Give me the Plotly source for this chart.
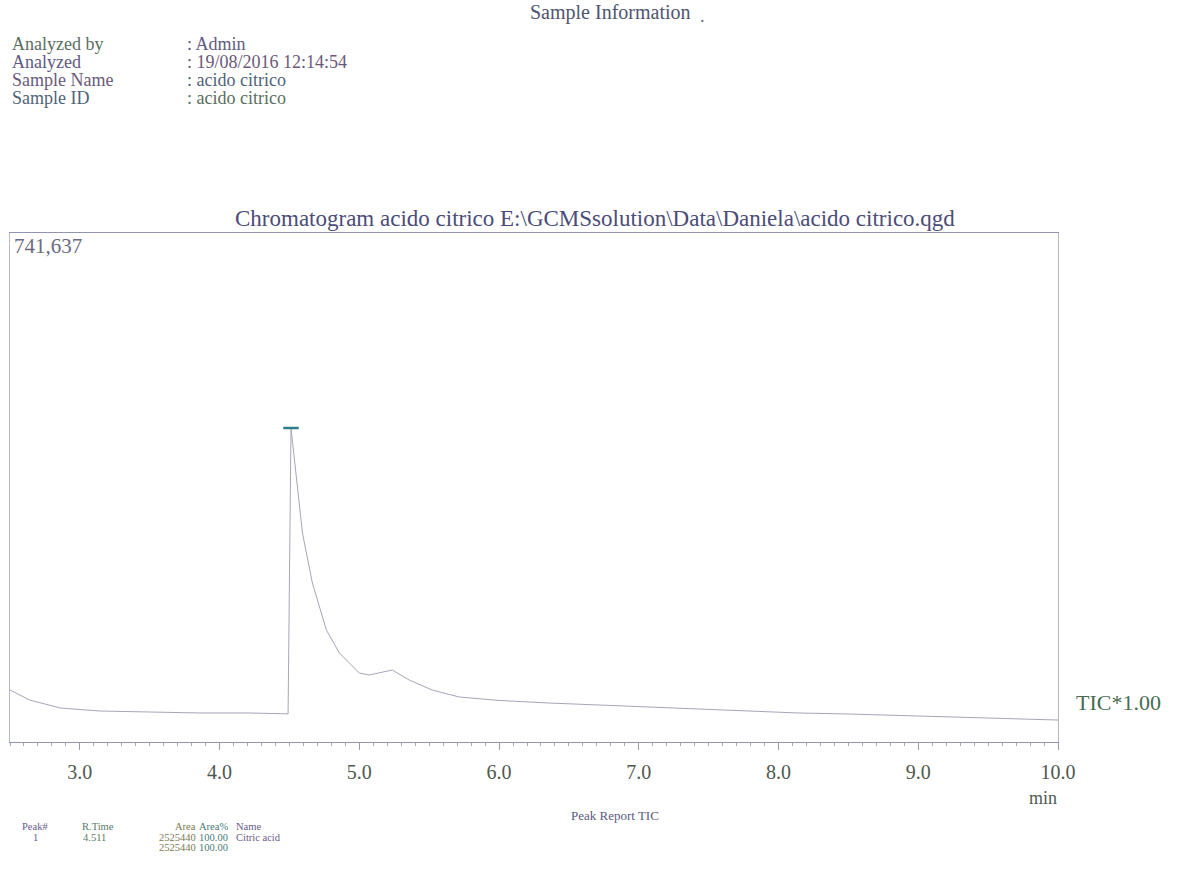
import plotly.graph_objects as go

# ---- data ----
time_min = [2.50, 2.64, 2.86, 3.14, 3.50, 3.86, 4.21, 4.46, 4.49, 4.511, 4.593, 4.664, 4.764,
            4.857, 5.00, 5.07, 5.236, 5.357, 5.52, 5.714, 6.00, 6.36, 6.71, 7.07, 7.43, 7.79,
            8.14, 8.50, 8.86, 9.21, 9.57, 10.0]
intensity = [75800, 61200, 49500, 45200, 43700, 42300, 42300, 40800, 41000, 457500, 304500,
             231700, 163200, 129700, 100500, 97600, 104900, 90300, 75800, 65600, 60500, 56800,
             53900, 51000, 48100, 45200, 42300, 40800, 38600, 36400, 35000, 32000]
peak_time = [4.511]
peak_height = [457500]
y_max = 741637
x_range = [2.5, 10.0]
tick_vals = [3, 4, 5, 6, 7, 8, 9, 10]
tick_text = ["3.0", "4.0", "5.0", "6.0", "7.0", "8.0", "9.0", "10.0"]

header_labels = ["Analyzed by", "Analyzed", "Sample Name", "Sample ID"]
header_values = [": Admin", ": 19/08/2016 12:14:54", ": acido citrico", ": acido citrico"]
header_colors = ["#5a6e62", "#5e5a80", "#6a5a7a", "#4f6478"]

report_cols = ["Peak#", "R.Time", "Area", "Area%", "Name"]
report_row1 = ["1", "4.511", "2525440", "100.00", "Citric acid"]
report_row2 = ["", "", "2525440", "100.00", ""]

FONT = "Liberation Serif"
W, H = 1177, 890
L, R, T, B = 10, 1058, 233, 742


def px(x):
    return (x - L) / (R - L)


def py(y):
    return (B - y) / (B - T)


fig = go.Figure()
fig.add_trace(go.Scatter(x=time_min, y=intensity, mode="lines",
                         line=dict(color="#a6a6b8", width=1), hoverinfo="skip",
                         showlegend=False))
fig.add_trace(go.Scatter(x=peak_time, y=peak_height, mode="markers",
                         marker=dict(symbol="line-ew", size=11,
                                     line=dict(color="#2f7d86", width=2.5)),
                         showlegend=False, hoverinfo="skip"))

ann = []


def text(x, y, s, size, color="#4e5060", xanchor="left"):
    ann.append(dict(x=px(x), y=py(y), xref="paper", yref="paper", text=s,
                    showarrow=False, xanchor=xanchor, yanchor="middle",
                    font=dict(family=FONT, size=size, color=color)))


text(610, 12, "Sample Information", 20, "#4f5570", "center")
text(702, 16, ".", 18, "#6a6a7a", "center")
for i, (lab, val) in enumerate(zip(header_labels, header_values)):
    y = 44 + 18 * i
    text(10, y, lab, 18, header_colors[i])
    text(185, y, val, 18, header_colors[(i + 1) % 4])

text(595, 219, "Chromatogram acido citrico E:\\GCMSsolution\\Data\\Daniela\\acido citrico.qgd",
     23, "#4c4c78", "center")
text(12, 246, "741,637", 21, "#6a6a80")
text(1074, 702, "TIC*1.00", 22, "#4a6a52")
text(1043, 798, "min", 18, "#505a52", "center")

text(615, 815, "Peak Report TIC", 13, "#5a5a80", "center")
col_x = [20, 80, 198, 230, 234]
col_anchor = ["left", "left", "right", "right", "left"]
col_colors = ["#6a5a8a", "#5a7a6a", "#7a7a50", "#4a7a7a", "#6a5a8a"]
for row, y in ((report_cols, 826), (report_row1, 837), (report_row2, 847)):
    for j, s in enumerate(row):
        if s:
            xx = col_x[j]
            anc = col_anchor[j]
            if row is not report_cols and j == 0:
                xx, anc = 35, "center"
            if row is not report_cols and j == 1:
                xx, anc = 108, "right"
            text(xx, y, s, 10.5, col_colors[j], anc)

fig.update_layout(
    width=W, height=H,
    margin=dict(l=L, r=W - R, t=T, b=H - B, pad=0),
    paper_bgcolor="white", plot_bgcolor="white",
    annotations=ann,
    xaxis=dict(range=x_range, tickmode="array", tickvals=tick_vals, ticktext=tick_text,
               showgrid=False, zeroline=False, showline=True, linecolor="#9294b0",
               linewidth=1, mirror=True, ticks="outside", ticklen=7, tickcolor="#9a9cb4",
               ticklabelstandoff=5,
               tickfont=dict(family=FONT, size=20, color="#50584e"),
               minor=dict(dtick=0.1, tick0=0, ticks="outside", ticklen=3,
                          tickcolor="#a8aabc", showgrid=False)),
    yaxis=dict(range=[0, y_max], showgrid=False, zeroline=False, showticklabels=False,
               showline=True, linecolor="#b8bac8", linewidth=1, mirror=True, ticks=""),
)

fig.write_html("out.html")
